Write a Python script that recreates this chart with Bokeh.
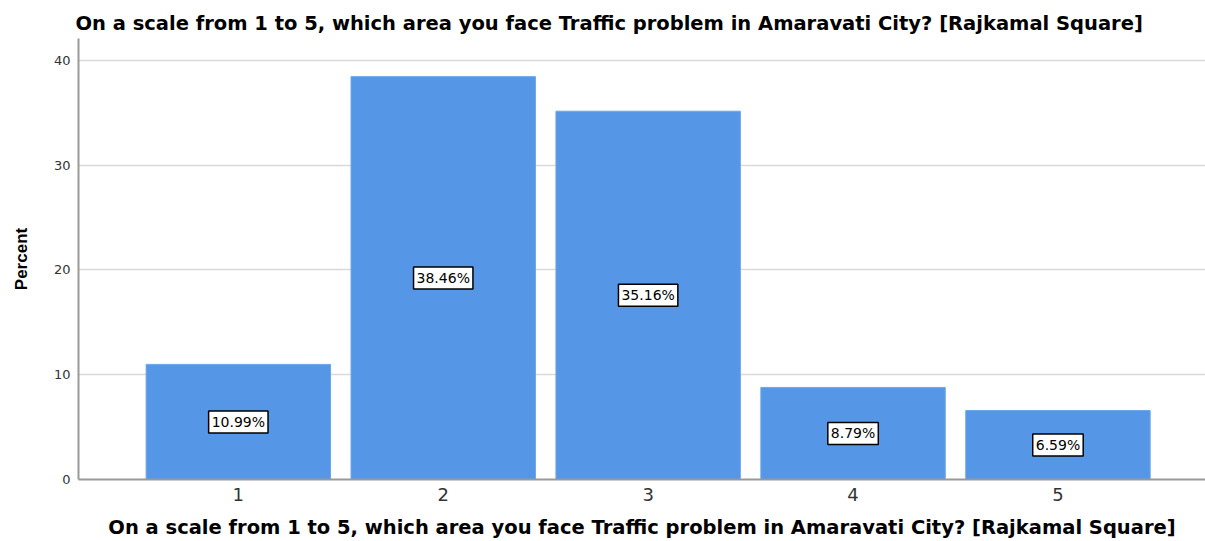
from bokeh.plotting import figure
from bokeh.models import ColumnDataSource, Range1d, FixedTicker
from bokeh.core.properties import value
from bokeh.embed import file_html
from bokeh.resources import INLINE

categories = [1, 2, 3, 4, 5]
percents = [10.99, 38.46, 35.16, 8.79, 6.59]
labels = ["10.99%", "38.46%", "35.16%", "8.79%", "6.59%"]
y_ticks = [0, 10, 20, 30, 40]

title_text = "On a scale from 1 to 5, which area you face Traffic problem in Amaravati City? [Rajkamal Square]"

src = ColumnDataSource(dict(
    x=categories, top=percents, mid=[v / 2 for v in percents], lab=labels))

p = figure(width=1205, height=541, output_backend="svg", toolbar_location=None,
           x_range=Range1d(0.22, 5.72), y_range=Range1d(0, 42.1),
           min_border_left=78, min_border_right=0, min_border_top=38, min_border_bottom=0,
           border_fill_color="white")

p.title.text = title_text
p.title.text_font = "DejaVu Sans"
p.title.text_font_size = "19.5px"
p.title.text_font_style = "bold"
p.title.text_color = "black"
p.title.offset = -3
p.title.standoff = 7

p.vbar(x="x", top="top", width=0.9, source=src, fill_color="#5596E6",
       line_color="#6aa6ec", line_width=1)

p.text(x="x", y="mid", text="lab", source=src,
       text_align="center", text_baseline="middle",
       text_font=value("DejaVu Sans"), text_font_size="14px", text_color="black",
       background_fill_color="white", border_line_color="black",
       border_line_width=1.5, padding=3)

p.xaxis.ticker = FixedTicker(ticks=categories)
p.yaxis.ticker = FixedTicker(ticks=y_ticks)
p.xaxis.axis_label = title_text
p.yaxis.axis_label = "Percent"
p.xaxis.axis_label_text_font = "DejaVu Sans"
p.xaxis.axis_label_text_font_size = "19.5px"
p.xaxis.axis_label_text_font_style = "bold"
p.xaxis.axis_label_text_color = "black"
p.xaxis.axis_label_standoff = 12
p.yaxis.axis_label_text_font = "Liberation Sans"
p.yaxis.axis_label_text_font_size = "17px"
p.yaxis.axis_label_text_font_style = "bold"
p.yaxis.axis_label_text_color = "black"
p.yaxis.axis_label_standoff = 20

p.xaxis.major_label_text_font = "DejaVu Sans"
p.xaxis.major_label_text_font_size = "18px"
p.xaxis.major_label_text_color = "#333333"
p.yaxis.major_label_text_font = "DejaVu Sans"
p.yaxis.major_label_text_font_size = "13px"
p.yaxis.major_label_text_color = "#333333"

for ax in (p.xaxis, p.yaxis):
    ax.major_tick_line_color = None
    ax.minor_tick_line_color = None
    ax.major_tick_out = 0
    ax.major_tick_in = 0
    ax.minor_tick_out = 0
    ax.minor_tick_in = 0
    ax.axis_line_color = "#999999"
    ax.axis_line_width = 2
p.xaxis.major_label_standoff = 8
p.yaxis.major_label_standoff = 8

p.xgrid.grid_line_color = None
p.ygrid.grid_line_color = "#d9d9d9"
p.ygrid.grid_line_width = 1.5
p.outline_line_color = None

open("out.html", "w").write(file_html(p, INLINE))
